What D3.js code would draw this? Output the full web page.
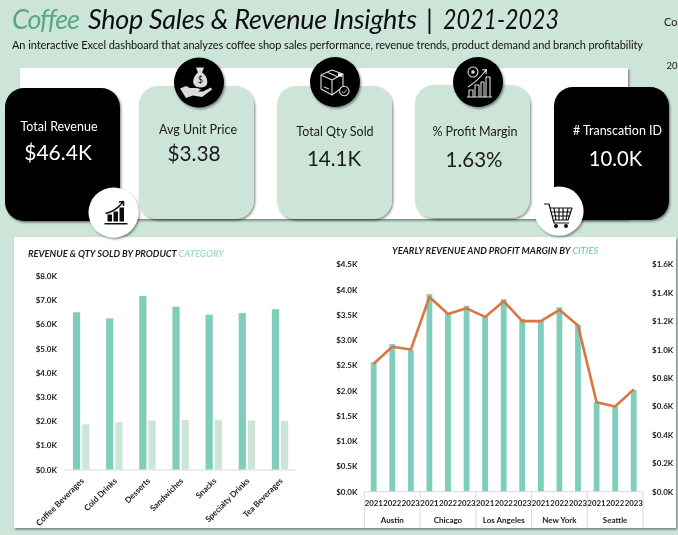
<!DOCTYPE html>
<html><head><meta charset="utf-8">
<script src="https://cdn.jsdelivr.net/npm/d3@7/dist/d3.min.js"></script>
<style>
html,body{margin:0;padding:0;background:#cde5d9;overflow:hidden}
svg{display:block}
text{font-family:Lato,"Open Sans",sans-serif}
</style></head><body>
<svg id="c" width="678" height="535"></svg>
<script>
const categories=["Coffee Beverages","Cold Drinks","Desserts","Sandwiches","Snacks","Specialty Drinks","Tea Beverages"];
const categoryRevenue=[6.5,6.25,7.17,6.73,6.4,6.47,6.63];
const categoryQty=[1.87,1.96,2.03,2.05,2.06,2.03,2.0];
const leftTicks=[0,1,2,3,4,5,6,7,8];
const cities=["Austin","Chicago","Los Angeles","New York","Seattle"];
const years=["2021","2022","2023"];
const cityRevenue=[2.56,2.92,2.80,3.91,3.53,3.68,3.46,3.81,3.42,3.38,3.65,3.30,1.77,1.68,2.01];
const cityProfit=[0.90,1.02,1.00,1.37,1.25,1.29,1.23,1.34,1.20,1.20,1.28,1.17,0.63,0.60,0.72];
const revTicks=[0,.5,1,1.5,2,2.5,3,3.5,4,4.5];
const profitTicks=[0,.2,.4,.6,.8,1,1.2,1.4,1.6];
const kpis=[
 {label:"Total Revenue",value:"$46.4K",x:5,y:88,dark:true,lx:59,ly:131,vx:58,vy:160,vs:21},
 {label:"Avg Unit Price",value:"$3.38",x:139,y:86,dark:false,lx:198,ly:134,vx:194,vy:161,vs:20.8},
 {label:"Total Qty Sold",value:"14.1K",x:277,y:86,dark:false,lx:335,ly:136,vx:334,vy:166,vs:20.5},
 {label:"% Profit Margin",value:"1.63%",x:415,y:85,dark:false,lx:475,ly:136,vx:474,vy:167,vs:20.5},
 {label:"# Transcation ID",value:"10.0K",x:554,y:87,dark:true,lx:617.5,ly:135,vx:615.5,vy:166,vs:20.2}
];
const GREEN="#cde5d9",TEAL="#7fcdbb",ORANGE="#d9773f",INK="#1b1b1b",ICON="#dcdcdc";

const svg=d3.select("#c");
const defs=svg.append("defs");
const shadow=(id,dx,dy,b,o)=>{const f=defs.append("filter").attr("id",id).attr("x","-20%").attr("y","-20%").attr("width","140%").attr("height","140%");
 f.append("feDropShadow").attr("dx",dx).attr("dy",dy).attr("stdDeviation",b).attr("flood-color","#000").attr("flood-opacity",o);};
shadow("s1",1.2,1.6,1.1,.45);
const soft=defs.append("filter").attr("id","soft");soft.append("feGaussianBlur").attr("stdDeviation",.4);

const root=svg.append("g").attr("filter","url(#soft)");
root.append("rect").attr("width",678).attr("height",535).attr("fill",GREEN);

// header
const head=(x,len,fill,txt)=>root.append("text").attr("x",x).attr("y",29).attr("font-size",27).attr("font-style","italic").attr("fill",fill).attr("textLength",len).attr("lengthAdjust","spacing").text(txt);
head(12,68,"#5aa882","Coffee");
head(88,329,"#111","Shop Sales & Revenue Insights");
root.append("text").attr("x",426).attr("y",29).attr("font-size",27).attr("font-style","italic").attr("fill","#111").text("|");
head(443,116,"#111","2021-2023").attr("lengthAdjust","spacingAndGlyphs");
root.append("text").attr("x",12).attr("y",49).attr("font-size",11).attr("fill","#111").attr("textLength",631).attr("lengthAdjust","spacing")
 .text("An interactive Excel dashboard that analyzes coffee shop sales performance, revenue trends, product demand and branch profitability");
root.append("text").attr("x",664).attr("y",26).attr("font-size",11).attr("fill","#222").text("Co");
root.append("text").attr("x",666.5).attr("y",69).attr("font-size",9.5).attr("fill","#222").text("20");

// KPI band
root.append("rect").attr("x",20).attr("y",68).attr("width",608).attr("height",151).attr("fill","#fff").attr("filter","url(#s1)");
// chart panel
root.append("rect").attr("x",14).attr("y",237).attr("width",662).attr("height",291).attr("fill","#fff").attr("filter","url(#s1)");

// KPI cards
kpis.forEach(k=>{
 root.append("rect").attr("x",k.x).attr("y",k.y).attr("width",115).attr("height",133).attr("rx",19)
  .attr("fill",k.dark?"#000":GREEN).attr("filter","url(#s1)");
 const col=k.dark?"#fff":"#1a1a1a";
 root.append("text").attr("x",k.lx).attr("y",k.ly).attr("text-anchor","middle").attr("font-size",12.5).attr("fill",col).text(k.label);
 root.append("text").attr("x",k.vx).attr("y",k.vy).attr("text-anchor","middle").attr("font-size",k.vs).attr("fill",col).text(k.value);
});

// icons
function circle(cx,cy,r,fill){root.append("circle").attr("cx",cx).attr("cy",cy).attr("r",r).attr("fill",fill).attr("filter","url(#s1)");return root.append("g").attr("transform",`translate(${cx},${cy})`);}
const stroke=(g,d,c,w)=>g.append("path").attr("fill","none").attr("stroke",c).attr("stroke-width",w).attr("stroke-linejoin","round").attr("d",d);
// money bag in hand
let g=circle(199,82.5,25,"#000");
g.append("path").attr("fill",ICON).attr("d","M-3,-15 L5,-15 L3,-10 C8,-7 9,-1 8,2 C6,6 -3,6 -5,2 C-7,-1 -5,-7 -1,-10Z");
g.append("text").attr("x",1.5).attr("y",0).attr("text-anchor","middle").attr("font-size",8.5).attr("fill","#000").text("$");
g.append("path").attr("fill",ICON).attr("d","M-19,6 L-13,3.5 L-9,5.5 L-2,5.5 L2,7 L-1,9 L4,9 L12,5 L13,7 L3,14.5 L-6,13 L-13,15.5Z");
// box with check
g=circle(335,82,25,"#000");
stroke(g,"M-14,-7 L-3,-12 L8,-8 L8,5 L-3,13 L-14,7Z M-14,-7 L-3,-2 L8,-8 M-3,-2 L-3,13 M-8,-10 L3,-5 M-11,5 L-6,7","#dcdcdc",1.1);
g.append("path").attr("fill","#fff").attr("d","M3,-9 L7,-8 L7,-5 L3,-6Z");
g.append("circle").attr("cx",9.3).attr("cy",9).attr("r",4.7).attr("fill","#000").attr("stroke","#dcdcdc").attr("stroke-width",1.1);
stroke(g,"M7,9.5 L8.8,11 L12,7.5","#dcdcdc",.9);
// coin, arrow and bars
g=circle(478,82,25,"#000");
g.append("circle").attr("cx",-5).attr("cy",-10).attr("r",5).attr("fill","none").attr("stroke",ICON).attr("stroke-width",1.1);
g.append("circle").attr("cx",-5).attr("cy",-10).attr("r",1.8).attr("fill",ICON);
stroke(g,"M-10,5 Q0,-1 8,-12 M4,-12 L8.5,-12.5 L8,-8 M-9,15 V8 H-5 V15 M-3,15 V3 H1 V15 M3,15 V0 H6 V15 M8,15 V-5 H12 V15 M-11,15 H14",ICON,1.1);
// growth
g=circle(113.5,212.5,25,"#fff");
g.append("path").attr("fill","#111").attr("d","M-6,2 h4.5 v7 h-4.5Z M0,-1 h4.5 v10 h-4.5Z M6,-5 h4.5 v14 h-4.5Z M-9,10.5 h23 v1.6 h-23Z");
stroke(g,"M-8,1 Q2,-1 9,-10 M5.5,-10.5 L10,-11 L10,-6.5","#111",1.5);
// cart
g=circle(559,211,24.5,"#fff");
stroke(g,"M-15,-7 L-10,-7 L-5,12 L10,12 M-9,-3 H13 L9,9 H-6 M-5,-3 L-3,9 M0,-3 V9 M4,-3 V9 M9,-3 L7,9 M-8,1 H12 M-7,5 H11","#111",1.2);
g.append("circle").attr("cx",-3).attr("cy",15).attr("r",2).attr("fill","#111");
g.append("circle").attr("cx",7).attr("cy",15).attr("r",2).attr("fill","#111");

// LEFT chart
const fmt1=d=>"$"+d.toFixed(1)+"K";
root.append("text").attr("x",28).attr("y",257).attr("font-size",9.3).attr("font-style","italic").attr("font-weight",700).attr("fill",INK)
 .call(t=>{t.append("tspan").text("REVENUE & QTY SOLD BY PRODUCT ");t.append("tspan").attr("fill","#a6dcd0").attr("font-weight",700).text("CATEGORY");});
const yL=d3.scaleLinear().domain([0,8]).range([469.5,276]);
const xL=d3.scaleBand().domain(categories).range([64,296]).paddingInner(0).paddingOuter(0);
const xTeal=c=>xL(c)+xL.bandwidth()/2-7.6, barW=7.2;
const axL=root.append("g").attr("transform","translate(57,0)").call(d3.axisLeft(yL).tickValues(leftTicks).tickSize(0).tickFormat(fmt1));
axL.select(".domain").remove();
axL.selectAll("text").attr("font-size",8).attr("font-weight",700).attr("fill","#222").attr("x",0).attr("dy",".32em");
const axLB=root.append("g").attr("transform","translate(0,469.5)").call(d3.axisBottom(xL).tickSize(0).tickFormat(d=>d));
axLB.select(".domain").attr("stroke","#d9d9d9");
axLB.selectAll("text").attr("font-size",8.2).attr("fill","#222").attr("font-weight",700)
 .attr("text-anchor","end").attr("x",0).attr("y",0).attr("dy",".32em").attr("transform","translate(2,10) rotate(-45)");
root.append("g").selectAll("rect").data(categories).join("rect")
 .attr("x",xTeal).attr("width",barW).attr("y",(c,i)=>yL(categoryRevenue[i])).attr("height",(c,i)=>yL(0)-yL(categoryRevenue[i])).attr("fill",TEAL);
root.append("g").selectAll("rect").data(categories).join("rect")
 .attr("x",c=>xTeal(c)+9.2).attr("width",barW).attr("y",(c,i)=>yL(categoryQty[i])).attr("height",(c,i)=>yL(0)-yL(categoryQty[i])).attr("fill",GREEN);

// RIGHT chart
const t2=root.append("text").attr("x",392).attr("y",254).attr("font-size",9.4).attr("font-style","italic").attr("font-weight",700).attr("fill",INK);
t2.append("tspan").text("YEARLY REVENUE AND PROFIT MARGIN BY ");t2.append("tspan").attr("fill","#8fcfb0").attr("font-weight",700).text("CITIES");
const yR=d3.scaleLinear().domain([0,4.5]).range([491.7,264.3]);
const yP=d3.scaleLinear().domain([0,1.6]).range([491.7,264.3]);
const labels=cities.flatMap(c=>years.map(y=>c+"|"+y));
const xR=d3.scaleBand().domain(labels).range([364.4,643]).padding(0);
const axR=root.append("g").attr("transform","translate(357.5,0)").call(d3.axisLeft(yR).tickValues(revTicks).tickSize(0).tickFormat(fmt1));
axR.select(".domain").remove();
axR.selectAll("text").attr("font-size",8).attr("font-weight",700).attr("fill","#222").attr("x",0).attr("dy",".32em");
const axP=root.append("g").attr("transform","translate(652,0)").call(d3.axisRight(yP).tickValues(profitTicks).tickSize(0).tickFormat(fmt1));
axP.select(".domain").remove();
axP.selectAll("text").attr("font-size",8).attr("font-weight",700).attr("fill","#222").attr("x",0).attr("dy",".32em");
root.append("g").selectAll("rect").data(labels).join("rect")
 .attr("x",d=>xR(d)+xR.bandwidth()/2-2.9).attr("width",5.8).attr("y",(d,i)=>yR(cityRevenue[i])).attr("height",(d,i)=>yR(0)-yR(cityRevenue[i])).attr("fill",TEAL);
root.append("path").datum(labels).attr("fill","none").attr("stroke",ORANGE).attr("stroke-width",2.6).attr("stroke-linejoin","round")
 .attr("d",d3.line().x(d=>xR(d)+xR.bandwidth()/2).y((d,i)=>yP(cityProfit[i])));
// multi-level axis
const ax=root.append("g");
ax.append("line").attr("x1",364.4).attr("x2",643).attr("y1",491.7).attr("y2",491.7).attr("stroke","#d9d9d9");
cities.forEach((c,i)=>{
 const x0=xR(c+"|2021"), x1=x0+3*xR.bandwidth();
 ax.append("line").attr("x1",x0).attr("x2",x0).attr("y1",491.7).attr("y2",527.5).attr("stroke","#d9d9d9");
 if(i==4) ax.append("line").attr("x1",x1).attr("x2",x1).attr("y1",491.7).attr("y2",527.5).attr("stroke","#d9d9d9");
 ax.append("text").attr("x",(x0+x1)/2).attr("y",523).attr("text-anchor","middle").attr("font-size",8).attr("font-weight",700).attr("fill","#222").text(c);
});
labels.forEach(l=>{
 ax.append("text").attr("x",xR(l)+xR.bandwidth()/2).attr("y",506).attr("text-anchor","middle").attr("font-size",7.8).attr("font-weight",700).attr("fill","#222").text(l.split("|")[1]);
});
</script></body></html>
